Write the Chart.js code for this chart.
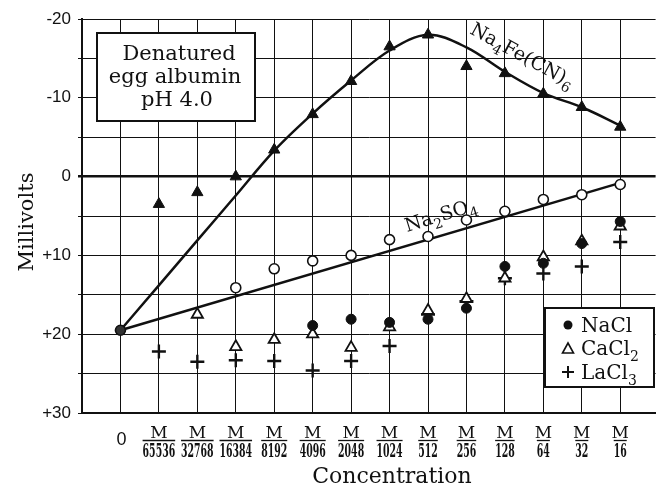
<!DOCTYPE html>
<html>
<head>
<meta charset="utf-8">
<script src="https://cdn.jsdelivr.net/npm/chart.js@4.4.1/dist/chart.umd.min.js"></script>
<style>
  html, body { margin: 0; padding: 0; background: #fff; }
  #wrap { width: 665px; height: 491px; }
</style>
</head>
<body>
<div id="wrap"><canvas id="mv" width="665" height="491"></canvas></div>
<script>
// concentration steps: first one is plain "0", the rest are M / denominator
const concDenoms = ['0', '65536', '32768', '16384', '8192', '4096', '2048', '1024', '512', '256', '128', '64', '32', '16'];
const yTickLabels = [-20, -10, 0, 10, 20, 30];

// millivolts (negative values are plotted upwards)
const na4feMarks  = [null, 3.5, 2.0, 0.0, -3.4, -7.9, -12.1, -16.5, -18.0, -14.0, -13.1, -10.5, -8.8, -6.3];
const na4feCurve  = [19.5, 13.8, 8.1, 2.4, -3.3, -8.0, -12.2, -16.0, -18.0, -16.4, -13.3, -10.6, -8.8, -6.5];
const na2so4Marks = [19.5, null, null, 14.1, 11.7, 10.7, 10.0, 8.0, 7.6, 5.5, 4.4, 2.9, 2.3, 1.0];
const na2so4Fit   = [19.5, 0.8];   // straight line from first to last step
const naclMarks   = [null, null, null, null, null, 18.9, 18.1, 18.5, 18.1, 16.7, 11.4, 11.0, 8.5, 5.7];
const cacl2Marks  = [null, null, 17.5, 21.6, 20.7, 20.0, 21.7, 19.1, 17.0, 15.5, 12.9, 10.2, 8.2, 6.3];
const lacl3Marks  = [null, 22.2, 23.5, 23.3, 23.4, 24.6, 23.4, 21.5, 17.5, 15.8, 12.9, 12.3, 11.4, 8.3];

const ink = '#111';
const serif = '"DejaVu Serif", serif';

function pts(arr) {
  return arr.map((v, i) => ({ x: i, y: v })).filter(p => p.y !== null);
}

// text with subscripts, e.g. [['Na',0],['4',1]]
function chem(ctx, parts, x, y, angle, size) {
  ctx.save();
  ctx.translate(x, y);
  ctx.rotate(angle);
  ctx.textAlign = 'left';
  ctx.textBaseline = 'alphabetic';
  let cx = 0;
  parts.forEach(([t, sub]) => {
    ctx.font = (sub ? Math.round(size * 0.72) : size) + 'px ' + serif;
    ctx.fillText(t, cx, sub ? size * 0.3 : 0);
    cx += ctx.measureText(t).width;
  });
  ctx.restore();
}

const paper = {
  id: 'paper',
  afterDraw(chart) {
    const { ctx, chartArea: a, scales: { x, y } } = chart;
    ctx.save();
    ctx.fillStyle = ink;
    ctx.strokeStyle = ink;

    // y tick labels
    ctx.font = '17px "Liberation Sans", sans-serif';
    ctx.textAlign = 'right';
    ctx.textBaseline = 'middle';
    yTickLabels.forEach(v => {
      ctx.fillText(v > 0 ? '+' + v : String(v), a.left - 11, y.getPixelForValue(v));
    });

    // x tick labels, as fractions M / n
    concDenoms.forEach((d, i) => {
      const px = x.getPixelForValue(i);
      if (i === 0) {
        ctx.font = '18px "Liberation Sans", sans-serif';
        ctx.textAlign = 'center';
        ctx.textBaseline = 'middle';
        ctx.fillText('0', px + 1, 440);
        return;
      }
      ctx.font = '17px ' + serif;
      ctx.textAlign = 'center';
      ctx.textBaseline = 'alphabetic';
      ctx.fillText('M', px, 438);
      ctx.font = 'bold 18px ' + serif;
      const w = ctx.measureText(d).width * 0.52;
      ctx.save();
      ctx.translate(px, 457);
      ctx.scale(0.52, 1);
      ctx.fillText(d, 0, 0);
      ctx.restore();
      ctx.lineWidth = 1.3;
      ctx.beginPath();
      ctx.moveTo(px - w / 2, 440.5);
      ctx.lineTo(px + w / 2, 440.5);
      ctx.stroke();
    });

    // axis titles
    ctx.font = '22px ' + serif;
    ctx.textAlign = 'center';
    ctx.textBaseline = 'alphabetic';
    ctx.fillText('Concentration', 392, 483);
    ctx.font = '21px ' + serif;
    ctx.save();
    ctx.translate(33, 222);
    ctx.rotate(-Math.PI / 2);
    ctx.fillText('Millivolts', 0, 0);
    ctx.restore();

    // sample box
    ctx.lineWidth = 2;
    ctx.fillStyle = '#fff';
    ctx.fillRect(97, 33, 158, 88);
    ctx.strokeRect(97, 33, 158, 88);
    ctx.fillStyle = ink;
    ctx.font = '21px ' + serif;
    ctx.textBaseline = 'middle';
    ctx.fillText('Denatured', 179, 55);
    ctx.fillText('egg albumin', 175, 78);
    ctx.fillText('pH 4.0', 177, 101);

    // legend box
    ctx.fillStyle = '#fff';
    ctx.fillRect(545, 308, 109, 79);
    ctx.strokeRect(545, 308, 109, 79);
    ctx.fillStyle = ink;
    const lx = 568;
    ctx.beginPath(); ctx.arc(lx, 325, 4.5, 0, Math.PI * 2); ctx.fill();
    ctx.lineWidth = 1.6;
    ctx.beginPath();
    ctx.moveTo(lx - 5.5, 353); ctx.lineTo(lx + 5.5, 353); ctx.lineTo(lx, 343); ctx.closePath();
    ctx.stroke();
    ctx.lineWidth = 2;
    ctx.beginPath();
    ctx.moveTo(lx - 6, 372); ctx.lineTo(lx + 6, 372);
    ctx.moveTo(lx, 366); ctx.lineTo(lx, 378);
    ctx.stroke();
    chem(ctx, [['NaCl', 0]], 581, 332, 0, 20);
    chem(ctx, [['CaCl', 0], ['2', 1]], 581, 355, 0, 20);
    chem(ctx, [['LaCl', 0], ['3', 1]], 581, 379, 0, 20);

    // curve labels
    chem(ctx, [['Na', 0], ['4', 1], ['Fe(CN)', 0], ['6', 1]], 469, 33, 0.5, 19);
    chem(ctx, [['Na', 0], ['2', 1], ['SO', 0], ['4', 1]], 407, 232, -0.3, 19);

    ctx.restore();
  }
};

new Chart(document.getElementById('mv'), {
  type: 'scatter',
  data: {
    datasets: [
      {
        label: 'Na4Fe(CN)6',
        data: pts(na4feMarks),
        pointStyle: 'triangle',
        pointRadius: 6.5,
        backgroundColor: ink,
        borderColor: ink,
        borderWidth: 1,
        order: 1
      },
      {
        label: 'Na2SO4',
        data: pts(na2so4Marks),
        pointStyle: 'circle',
        pointRadius: 5,
        backgroundColor: na2so4Marks.filter(v => v !== null).map((v, i) => i === 0 ? '#333' : '#fff'),
        borderColor: ink,
        borderWidth: 1.6,
        order: 1
      },
      {
        label: 'NaCl',
        data: pts(naclMarks),
        pointStyle: 'circle',
        pointRadius: 5,
        backgroundColor: ink,
        borderColor: ink,
        borderWidth: 1,
        order: 1
      },
      {
        label: 'CaCl2',
        data: pts(cacl2Marks),
        pointStyle: 'triangle',
        pointRadius: 6.5,
        backgroundColor: '#fff',
        borderColor: ink,
        borderWidth: 1.8,
        order: 1
      },
      {
        label: 'LaCl3',
        data: pts(lacl3Marks),
        pointStyle: 'cross',
        pointRadius: 7,
        borderColor: ink,
        borderWidth: 2.4,
        order: 1
      },
      {
        label: 'Na4Fe(CN)6 curve',
        data: pts(na4feCurve),
        showLine: true,
        tension: 0.35,
        pointRadius: 0,
        borderColor: ink,
        borderWidth: 2.5,
        order: 2
      },
      {
        label: 'Na2SO4 line',
        data: [{ x: 0, y: na2so4Fit[0] }, { x: concDenoms.length - 1, y: na2so4Fit[1] }],
        showLine: true,
        pointRadius: 0,
        borderColor: ink,
        borderWidth: 2.5,
        order: 2
      }
    ]
  },
  options: {
    responsive: false,
    devicePixelRatio: 1,
    animation: false,
    layout: { padding: { top: 19, right: 0, left: 0, bottom: 0 } },
    plugins: { legend: { display: false }, tooltip: { enabled: false } },
    scales: {
      x: {
        type: 'linear',
        min: -1,
        max: 13.92,
        ticks: { stepSize: 1, display: false, includeBounds: false },
        grid: { color: ink, lineWidth: 1, drawTicks: false },
        border: { color: ink, width: 2 },
        afterFit: s => { s.height = 78; }
      },
      y: {
        type: 'linear',
        reverse: true,
        min: -20,
        max: 30,
        ticks: { stepSize: 5, display: false },
        grid: {
          color: ink,
          lineWidth: c => (c.tick && c.tick.value === 0 ? 2.5 : 1),
          drawTicks: true,
          tickLength: 4
        },
        border: { color: ink, width: 2 },
        afterFit: s => { s.width = 82; }
      }
    }
  },
  plugins: [paper]
});
</script>
</body>
</html>
